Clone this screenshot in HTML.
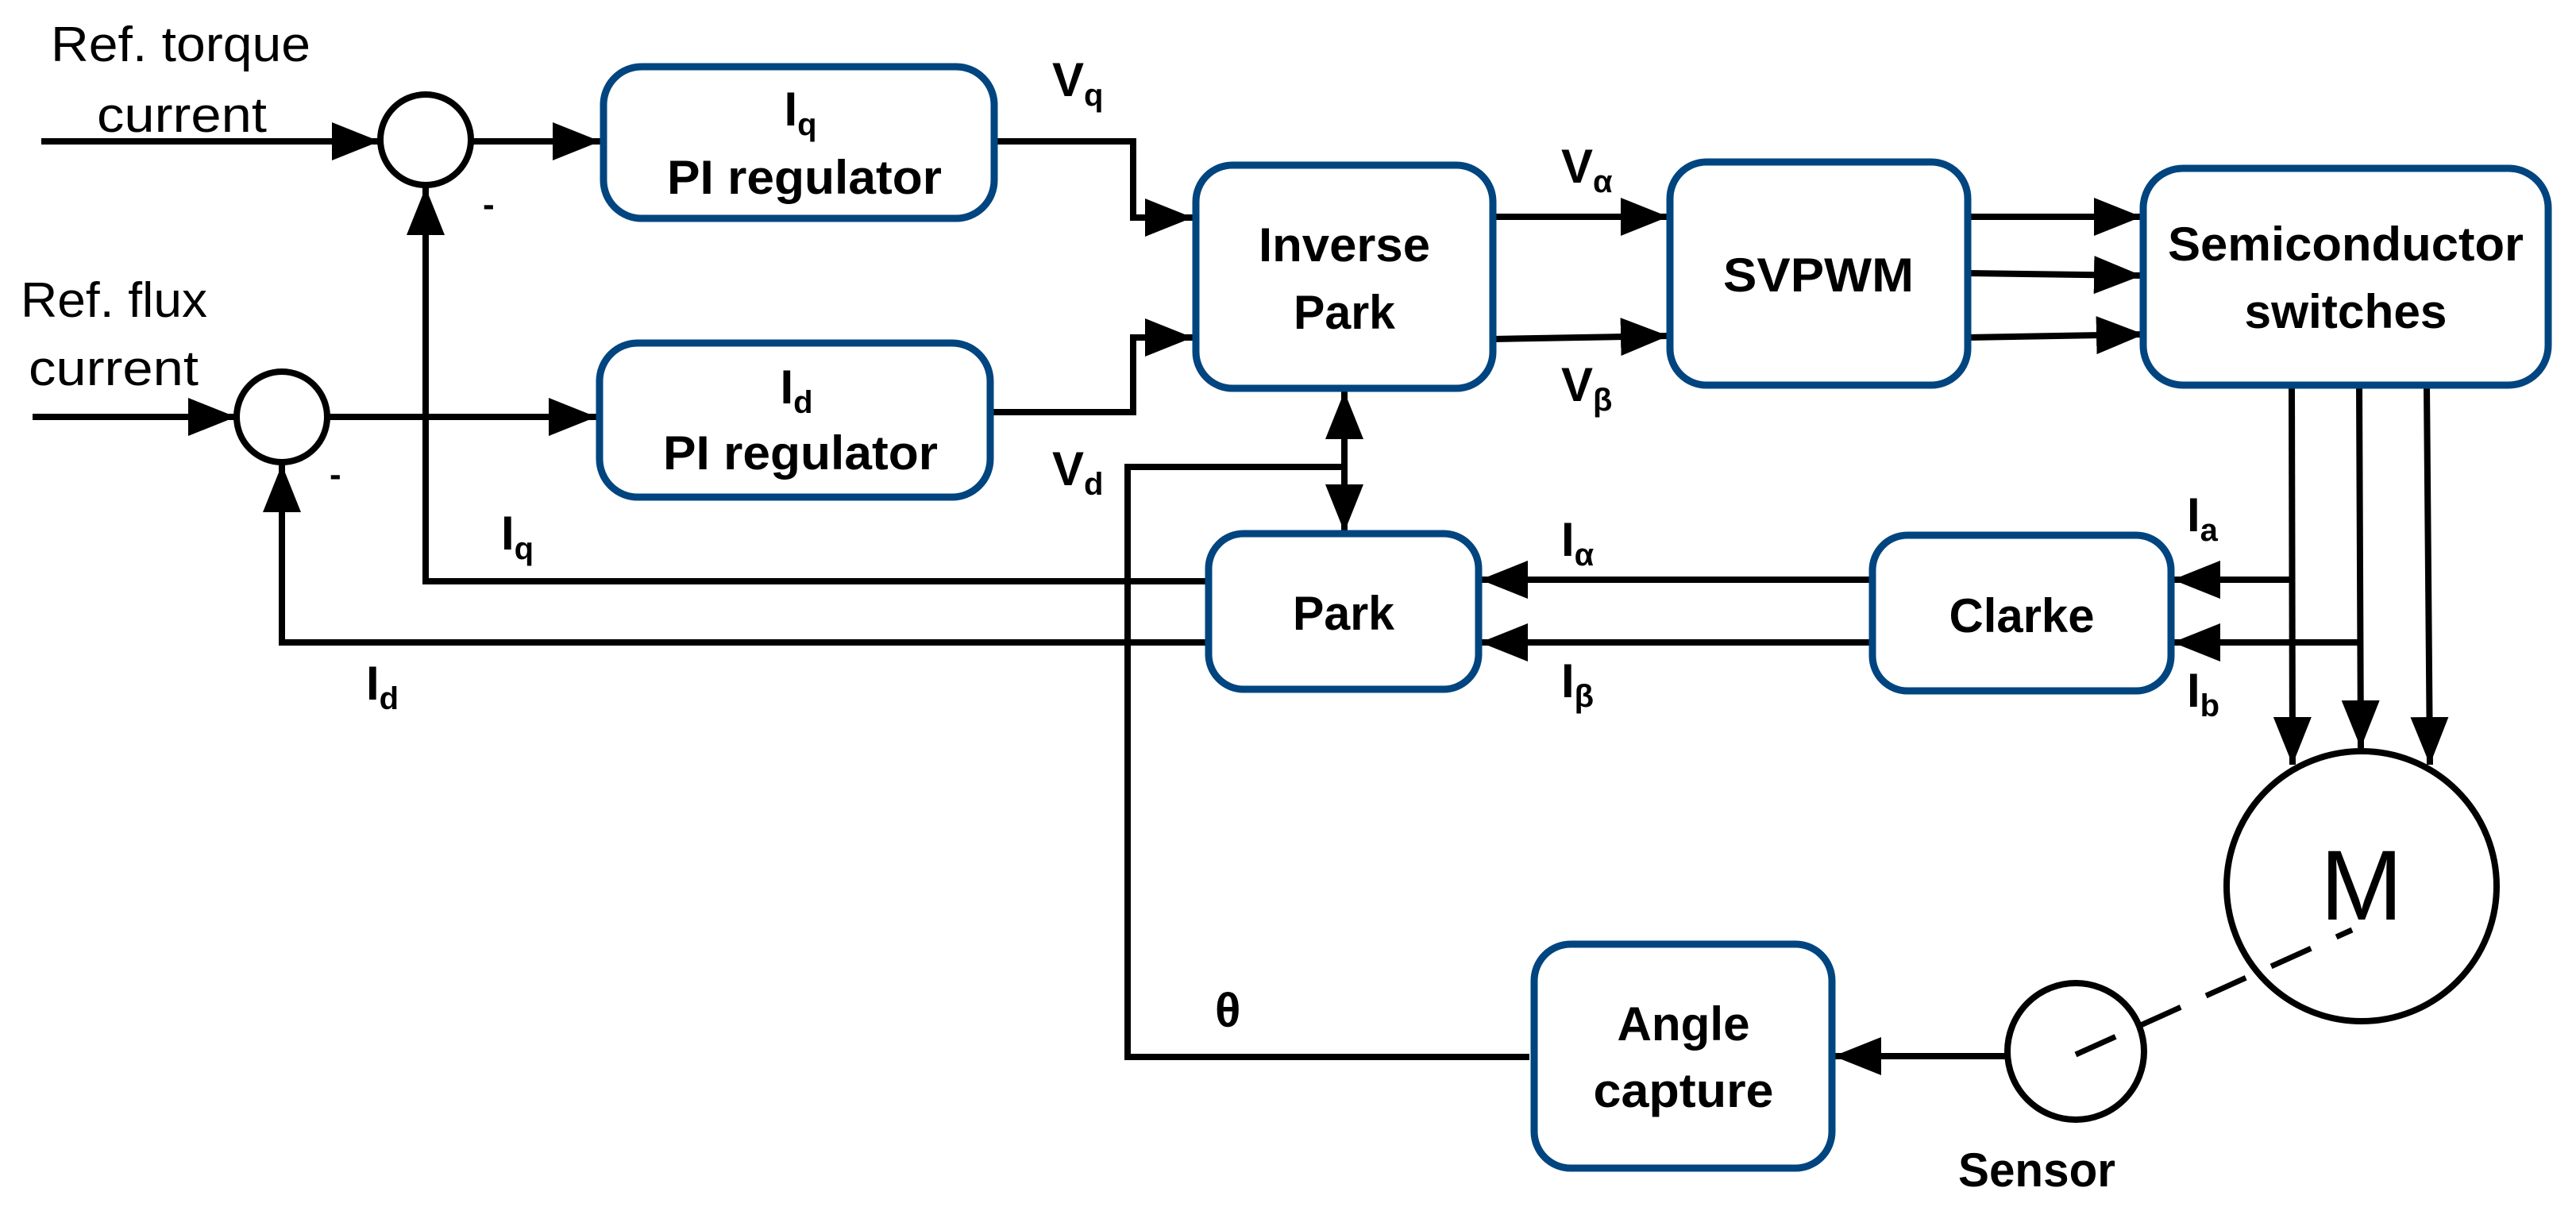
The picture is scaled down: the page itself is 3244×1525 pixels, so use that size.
<!DOCTYPE html>
<html><head><meta charset="utf-8"><style>
html,body{margin:0;padding:0;background:#fff;}
svg{display:block;}
text{font-family:"Liberation Sans",sans-serif;fill:#000;}
.b{font-weight:bold;}
</style></head><body>
<svg width="3244" height="1525" viewBox="0 0 3244 1525" xmlns="http://www.w3.org/2000/svg">
<defs>
<marker id="ar" markerWidth="7.5" markerHeight="6" refX="7.5" refY="3" orient="auto" markerUnits="strokeWidth">
<path d="M0,0 L7.5,3 L0,6 Z" fill="#000"/>
</marker>
</defs>
<g fill="none" stroke="#000" stroke-width="8">
<line x1="52" y1="178" x2="478" y2="178" marker-end="url(#ar)"/>
<line x1="41" y1="525" x2="297" y2="525" marker-end="url(#ar)"/>
<line x1="593" y1="178" x2="756" y2="178" marker-end="url(#ar)"/>
<line x1="412" y1="525" x2="751" y2="525" marker-end="url(#ar)"/>
<circle cx="536" cy="176" r="57"/>
<circle cx="355" cy="525" r="57"/>
<polyline points="1522,732 536,732 536,236" marker-end="url(#ar)"/>
<polyline points="1522,809 355,809 355,585" marker-end="url(#ar)"/>
<polyline points="1253,178 1427,178 1427,274 1502,274" marker-end="url(#ar)"/>
<polyline points="1249,519 1427,519 1427,425 1502,425" marker-end="url(#ar)"/>
<polyline points="1693,588 1420,588 1420,1331 1926,1331"/>
<line x1="1693" y1="620" x2="1693" y2="493" marker-end="url(#ar)"/>
<line x1="1693" y1="560" x2="1693" y2="670" marker-end="url(#ar)"/>
<line x1="1880" y1="273" x2="2101" y2="273" marker-end="url(#ar)"/>
<line x1="1880" y1="427" x2="2101" y2="423" marker-end="url(#ar)"/>
<line x1="2478" y1="273" x2="2697" y2="273" marker-end="url(#ar)"/>
<line x1="2478" y1="344" x2="2697" y2="347" marker-end="url(#ar)"/>
<line x1="2478" y1="425" x2="2700" y2="421" marker-end="url(#ar)"/>
<line x1="2358" y1="730" x2="1864" y2="730" marker-end="url(#ar)"/>
<line x1="2358" y1="809" x2="1864" y2="809" marker-end="url(#ar)"/>
<line x1="2886" y1="485" x2="2887" y2="963" marker-end="url(#ar)"/>
<line x1="2971" y1="485" x2="2973" y2="942" marker-end="url(#ar)"/>
<line x1="3056" y1="485" x2="3060" y2="963" marker-end="url(#ar)"/>
<line x1="2886" y1="730" x2="2736" y2="730" marker-end="url(#ar)"/>
<line x1="2971" y1="809" x2="2736" y2="809" marker-end="url(#ar)"/>
<circle cx="2974" cy="1116" r="170"/>
<circle cx="2614" cy="1324" r="86"/>
<line x1="2530" y1="1330" x2="2309" y2="1330" marker-end="url(#ar)"/>
<line x1="2614" y1="1328" x2="2962" y2="1171" stroke-dasharray="55,35" stroke-width="7"/>
</g>
<g fill="#fff" stroke="#00457f" stroke-width="9">
<rect x="760" y="84" width="492" height="191" rx="48"/>
<rect x="755" y="432" width="492" height="194" rx="48"/>
<rect x="1506" y="208" width="374" height="281" rx="46"/>
<rect x="2103" y="204" width="375" height="281" rx="46"/>
<rect x="2699" y="212" width="510" height="273" rx="50"/>
<rect x="1522" y="672" width="340" height="196" rx="44"/>
<rect x="2358" y="674" width="376" height="196" rx="44"/>
<rect x="1932" y="1189" width="375" height="282" rx="46"/>
</g>
<g font-size="62">
<text x="64" y="77" textLength="327" lengthAdjust="spacingAndGlyphs">Ref. torque</text>
<text x="122" y="166" textLength="214" lengthAdjust="spacingAndGlyphs">current</text>
<text x="26" y="399" textLength="235" lengthAdjust="spacingAndGlyphs">Ref. flux</text>
<text x="36" y="485" textLength="214" lengthAdjust="spacingAndGlyphs">current</text>
</g>
<g class="b" font-size="44">
<text x="608" y="272">-</text>
<text x="415" y="612">-</text>
</g>
<g class="b" font-size="60" text-anchor="middle">
<text x="1008" y="158">I<tspan font-size="40" dy="12">q</tspan></text>
<text x="1013" y="244" textLength="346" lengthAdjust="spacingAndGlyphs">PI regulator</text>
<text x="1003" y="508">I<tspan font-size="40" dy="12">d</tspan></text>
<text x="1008" y="591" textLength="346" lengthAdjust="spacingAndGlyphs">PI regulator</text>
<text x="1693" y="329" textLength="216" lengthAdjust="spacingAndGlyphs">Inverse</text>
<text x="1693" y="414" textLength="128" lengthAdjust="spacingAndGlyphs">Park</text>
<text x="2290" y="367" textLength="240" lengthAdjust="spacingAndGlyphs">SVPWM</text>
<text x="2954" y="328" textLength="448" lengthAdjust="spacingAndGlyphs">Semiconductor</text>
<text x="2954" y="413" textLength="255" lengthAdjust="spacingAndGlyphs">switches</text>
<text x="1692" y="793" textLength="128" lengthAdjust="spacingAndGlyphs">Park</text>
<text x="2546" y="796" textLength="183" lengthAdjust="spacingAndGlyphs">Clarke</text>
<text x="2120" y="1310" textLength="167" lengthAdjust="spacingAndGlyphs">Angle</text>
<text x="2120" y="1394" textLength="227" lengthAdjust="spacingAndGlyphs">capture</text>
<text x="2565" y="1494" textLength="198" lengthAdjust="spacingAndGlyphs">Sensor</text>
</g>
<g class="b" font-size="60">
<text x="1325" y="121">V<tspan font-size="40" dy="12">q</tspan></text>
<text x="1325" y="611">V<tspan font-size="40" dy="12">d</tspan></text>
<text x="631" y="692">I<tspan font-size="40" dy="12">q</tspan></text>
<text x="461" y="881">I<tspan font-size="40" dy="12">d</tspan></text>
<text x="1966" y="230">V<tspan font-size="40" dy="12">α</tspan></text>
<text x="1966" y="505">V<tspan font-size="40" dy="12">β</tspan></text>
<text x="1966" y="700">I<tspan font-size="40" dy="12">α</tspan></text>
<text x="1966" y="878">I<tspan font-size="40" dy="12">β</tspan></text>
<text x="2754" y="669">I<tspan font-size="40" dy="12">a</tspan></text>
<text x="2754" y="890">I<tspan font-size="40" dy="12">b</tspan></text>
<text x="1530" y="1293">θ</text>
</g>
<text x="2974" y="1158" font-size="125" text-anchor="middle">M</text>
</svg>
</body></html>
